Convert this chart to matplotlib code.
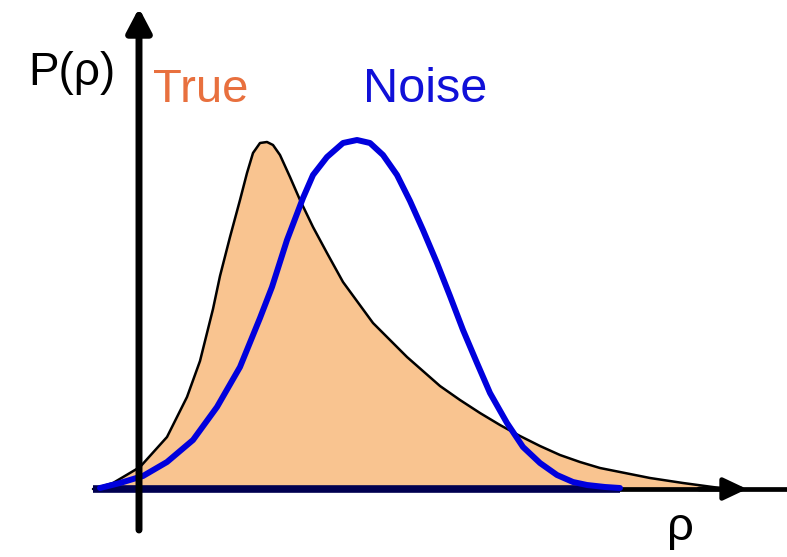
import matplotlib
matplotlib.use("Agg")
import matplotlib.pyplot as plt

# True signal distribution (rho, P)
true_rho = [-0.46, -0.26, 0.01, 0.28, 0.48, 0.61, 0.74, 0.81, 0.91, 1.01, 1.08, 1.14,
            1.21, 1.28, 1.34, 1.41, 1.51, 1.61, 1.74, 1.88, 2.04, 2.34, 2.68, 3.01,
            3.21, 3.41, 3.61, 3.81, 4.01, 4.21, 4.41, 4.61, 4.81, 5.11, 5.44, 5.81]
true_p = [0.00, 0.06, 0.22, 0.52, 0.92, 1.28, 1.80, 2.13, 2.52, 2.89, 3.16, 3.36,
          3.46, 3.47, 3.44, 3.34, 3.12, 2.89, 2.62, 2.36, 2.07, 1.66, 1.32, 1.03,
          0.89, 0.76, 0.64, 0.53, 0.43, 0.34, 0.27, 0.21, 0.17, 0.11, 0.06, 0.01]

# Noise distribution (rho, P)
noise_rho = [-0.39, -0.19, 0.04, 0.28, 0.54, 0.78, 1.01, 1.21, 1.33, 1.48, 1.64, 1.74,
             1.88, 2.04, 2.18, 2.31, 2.44, 2.58, 2.71, 2.84, 2.98, 3.11, 3.24, 3.38,
             3.51, 3.68, 3.84, 4.01, 4.18, 4.34, 4.48, 4.66, 4.81]
noise_p = [0.01, 0.06, 0.13, 0.27, 0.49, 0.82, 1.22, 1.71, 2.02, 2.49, 2.91, 3.14,
           3.32, 3.46, 3.49, 3.46, 3.34, 3.14, 2.88, 2.59, 2.26, 1.93, 1.59, 1.26,
           0.96, 0.66, 0.42, 0.26, 0.14, 0.07, 0.04, 0.02, 0.01]

labels = {"y": "P(\u03c1)", "x": "\u03c1", "true": "True", "noise": "Noise"}

fig = plt.figure(figsize=(7.87, 5.57), dpi=100)
ax = fig.add_axes([0, 0, 1, 1])
ax.set_xlim(-1.39, 6.48)
ax.set_ylim(-0.68, 4.89)
ax.axis("off")

font = "Liberation Sans"

# True distribution
ax.fill_between(true_rho, 0, true_p, color="#F9C490", lw=0, zorder=1)
ax.plot(true_rho, true_p, color="black", lw=1.8, zorder=2,
        solid_capstyle="round", solid_joinstyle="round")

# x axis
ax.plot([-0.46, 6.48], [0, 0], color="black", lw=3.4, zorder=3, solid_capstyle="butt")
ax.annotate("", xy=(6.08, 0), xytext=(5.6, 0),
            arrowprops=dict(arrowstyle="-|>,head_length=0.95,head_width=0.45",
                            color="black", lw=3.4, shrinkA=0, shrinkB=0,
                            mutation_scale=15), zorder=3)
# noise baseline
ax.plot([noise_rho[0] - 0.07, noise_rho[-1]], [0, 0], color="#000050", lw=5.5,
        zorder=3, solid_capstyle="butt")

# Noise distribution
ax.plot(noise_rho, noise_p, color="#0000DD", lw=4.3, zorder=4,
        solid_capstyle="round", solid_joinstyle="round")

# y axis
ax.annotate("", xy=(0, 4.81), xytext=(0, -0.41),
            arrowprops=dict(arrowstyle="-|>,head_length=0.95,head_width=0.5",
                            color="black", lw=5, shrinkA=0, shrinkB=0,
                            mutation_scale=15), zorder=5)

ax.text(-1.11, 4.04, labels["y"], fontsize=33, family=font, color="black",
        ha="left", va="baseline")
ax.text(0.14, 3.87, labels["true"], fontsize=34, family=font, color="#E8703E",
        ha="left", va="baseline")
ax.text(2.24, 3.87, labels["noise"], fontsize=35, family=font, color="#1010D8",
        ha="left", va="baseline")
ax.text(5.28, -0.51, labels["x"], fontsize=34, family=font, color="black",
        ha="left", va="baseline")

fig.savefig("out.png", dpi=100)
